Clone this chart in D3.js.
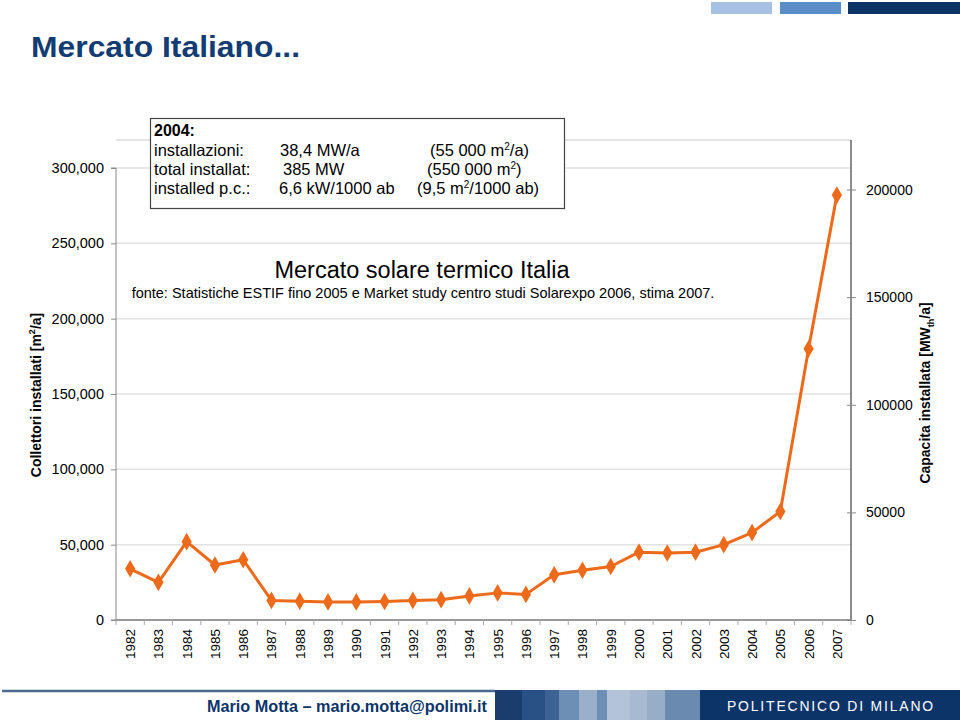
<!DOCTYPE html>
<html><head><meta charset="utf-8">
<script src="https://cdn.jsdelivr.net/npm/d3@7"></script>
<style>body{margin:0;background:#fff}svg{display:block}text{font-family:"Liberation Sans",Arial,sans-serif}</style>
</head><body>
<script>
const years = ["1982","1983","1984","1985","1986","1987","1988","1989","1990","1991","1992","1993","1994","1995","1996","1997","1998","1999","2000","2001","2002","2003","2004","2005","2006","2007"];
const collettori = [34000,25000,52000,36500,40000,13000,12500,12000,12000,12300,13000,13500,16000,18000,17000,30000,33000,35500,45000,44500,45000,50000,58000,72000,180000,282000];
const leftTicks = [0,50000,100000,150000,200000,250000,300000];
const rightTicks = [0,50000,100000,150000,200000];
const boxLines = [
  ["installazioni:", "38,4 MW/a", "(55 000 m", "/a)"],
  ["total installat:", "385 MW", "(550 000 m", ")"],
  ["installed p.c.:", "6,6 kW/1000 ab", "(9,5 m", "/1000 ab)"]
];

const W=960,H=720;
const svg=d3.select("body").append("svg").attr("width",W).attr("height",H);
const L=116,R=851,B=620,T=168;
const x=d3.scaleBand().domain(years).range([L,R]);
const y=d3.scaleLinear().domain([0,300000]).range([B,T]);
const y2=d3.scaleLinear().domain([0,210000]).range([B,T]);

// top-right decoration
[[711,772,"#A7C1E3"],[780,841,"#5B8DC9"],[848,960,"#0C3566"]].forEach(d=>{
  svg.append("rect").attr("x",d[0]).attr("y",2).attr("width",d[1]-d[0]).attr("height",12).attr("fill",d[2]);
});
svg.append("text").attr("x",31).attr("y",57).attr("font-family","DejaVu Sans, Verdana, sans-serif").attr("font-weight","bold")
  .attr("font-size",30).attr("fill","#123C72").attr("textLength",269).attr("lengthAdjust","spacingAndGlyphs").text("Mercato Italiano...");

// gridlines
svg.append("g").selectAll("line").data(leftTicks.filter(d=>d>0)).join("line")
  .attr("x1",L).attr("x2",R).attr("y1",d=>y(d)).attr("y2",d=>y(d)).attr("stroke","#E2E2E2").attr("stroke-width",1.5);
svg.append("line").attr("x1",L).attr("x2",R).attr("y1",140).attr("y2",140).attr("stroke","#C8C8C8").attr("stroke-width",1);

// left axis
const ga=svg.append("g").attr("transform",`translate(${L},0)`)
  .call(d3.axisLeft(y).tickValues(leftTicks).tickFormat(d3.format(",")).tickSize(5).tickPadding(7));
ga.select(".domain").attr("stroke","#888").attr("d",`M-5,${T}H0V${B}H-5`);
ga.selectAll(".tick line").attr("stroke","#888");
ga.selectAll("text").attr("font-size",14.5).attr("fill","#000").attr("font-family","Liberation Sans, Arial, sans-serif");

// right axis
const gr=svg.append("g").attr("transform",`translate(${R},0)`)
  .call(d3.axisRight(y2).tickValues(rightTicks).tickFormat(d3.format("d")).tickSizeInner(5).tickSizeOuter(0).tickPadding(10));
gr.select(".domain").attr("stroke","#666").attr("stroke-width",1.5).attr("d",`M0,140V${B}`);
gr.selectAll(".tick line").attr("stroke","#888").attr("x1",-4);
gr.selectAll("text").attr("font-size",14).attr("fill","#000").attr("font-family","Liberation Sans, Arial, sans-serif");

// bottom axis
svg.append("line").attr("x1",L).attr("x2",R).attr("y1",B).attr("y2",B).attr("stroke","#777").attr("stroke-width",1.5);
svg.append("g").selectAll("line").data(years.concat(["end"])).join("line")
  .attr("x1",(d,i)=>L+i*x.bandwidth()).attr("x2",(d,i)=>L+i*x.bandwidth())
  .attr("y1",B).attr("y2",B+5).attr("stroke","#aaa");
svg.append("g").selectAll("text").data(years).join("text")
  .attr("transform",d=>`translate(${x(d)+x.bandwidth()/2+5},${B+9}) rotate(-90)`)
  .attr("text-anchor","end").attr("font-size",13.5).text(d=>d);

// axis titles
const lt=svg.append("text").attr("transform","translate(41,395) rotate(-90)").attr("text-anchor","middle")
  .attr("font-size",14).attr("font-weight","bold");
lt.append("tspan").text("Collettori installati  [m");
lt.append("tspan").attr("font-size",9).attr("dy",-6).text("2");
lt.append("tspan").attr("dy",6).text("/a]");
const rt=svg.append("text").attr("transform","translate(930,393) rotate(-90)").attr("text-anchor","middle")
  .attr("font-size",14).attr("font-weight","bold");
rt.append("tspan").text("Capacita installata [MW");
rt.append("tspan").attr("font-size",9).attr("dy",4).text("th");
rt.append("tspan").attr("dy",-4).text("/a]");

// inner titles
svg.append("text").attr("x",422).attr("y",278).attr("text-anchor","middle").attr("font-size",23.5).text("Mercato solare termico Italia");
svg.append("text").attr("x",423).attr("y",298).attr("text-anchor","middle").attr("font-size",14.5)
  .text("fonte: Statistiche ESTIF fino 2005 e Market study centro studi Solarexpo 2006, stima 2007.");

// info box
svg.append("rect").attr("x",150.5).attr("y",118.5).attr("width",414).attr("height",90).attr("fill","#fff").attr("stroke","#444").attr("stroke-width",1.2);
svg.append("text").attr("x",154).attr("y",136).attr("font-size",16).attr("font-weight","bold").text("2004:");
const col2=[280,283,279], col3=[430,427,417];
boxLines.forEach((r,i)=>{
  const by=156+i*19;
  svg.append("text").attr("x",154).attr("y",by).attr("font-size",16.5).text(r[0]);
  svg.append("text").attr("x",col2[i]).attr("y",by).attr("font-size",16.5).text(r[1]);
  const t=svg.append("text").attr("x",col3[i]).attr("y",by).attr("font-size",16.5);
  t.append("tspan").text(r[2]);
  t.append("tspan").attr("font-size",10).attr("dy",-6).text("2");
  t.append("tspan").attr("dy",6).text(r[3]);
});

// line + markers
const line=d3.line().x((d,i)=>x(years[i])+x.bandwidth()/2).y(d=>y(d));
svg.append("path").datum(collettori).attr("d",line).attr("fill","none").attr("stroke","#EE6A1B").attr("stroke-width",3).attr("stroke-linejoin","round");
svg.append("g").selectAll("path").data(collettori).join("path")
  .attr("d",d3.symbol(d3.symbolDiamond,90)())
  .attr("transform",(d,i)=>`translate(${x(years[i])+x.bandwidth()/2},${y(d)})`)
  .attr("fill","#EE6A1B");

// footer
svg.append("line").attr("x1",2).attr("x2",495).attr("y1",691).attr("y2",691).attr("stroke","#4A6A90").attr("stroke-width",2.5);
[[495,522,"#1A3D6E"],[522,545,"#2A5185"],[545,559,"#3C6394"],[559,579,"#6E8FB5"],[579,597,"#9AB0CA"],[597,607,"#6E8FB5"],[607,630,"#B3C4D8"],[630,647,"#A7BAD2"],[647,665,"#97ADC8"],[665,700,"#6A8AB0"],[700,960,"#0D3468"]].forEach(d=>{
  svg.append("rect").attr("x",d[0]).attr("y",690).attr("width",d[1]-d[0]).attr("height",30).attr("fill",d[2]);
});
svg.append("text").attr("x",207).attr("y",712).attr("font-size",16).attr("font-weight","bold").attr("fill","#0D3468")
  .attr("textLength",280).attr("lengthAdjust","spacingAndGlyphs").text("Mario Motta  \u2013 mario.motta@polimi.it");
svg.append("text").attr("x",727).attr("y",711).attr("font-size",15).attr("fill","#fff").attr("letter-spacing",2)
  .attr("textLength",208).attr("lengthAdjust","spacingAndGlyphs").text("POLITECNICO DI MILANO");
</script>
</body></html>
